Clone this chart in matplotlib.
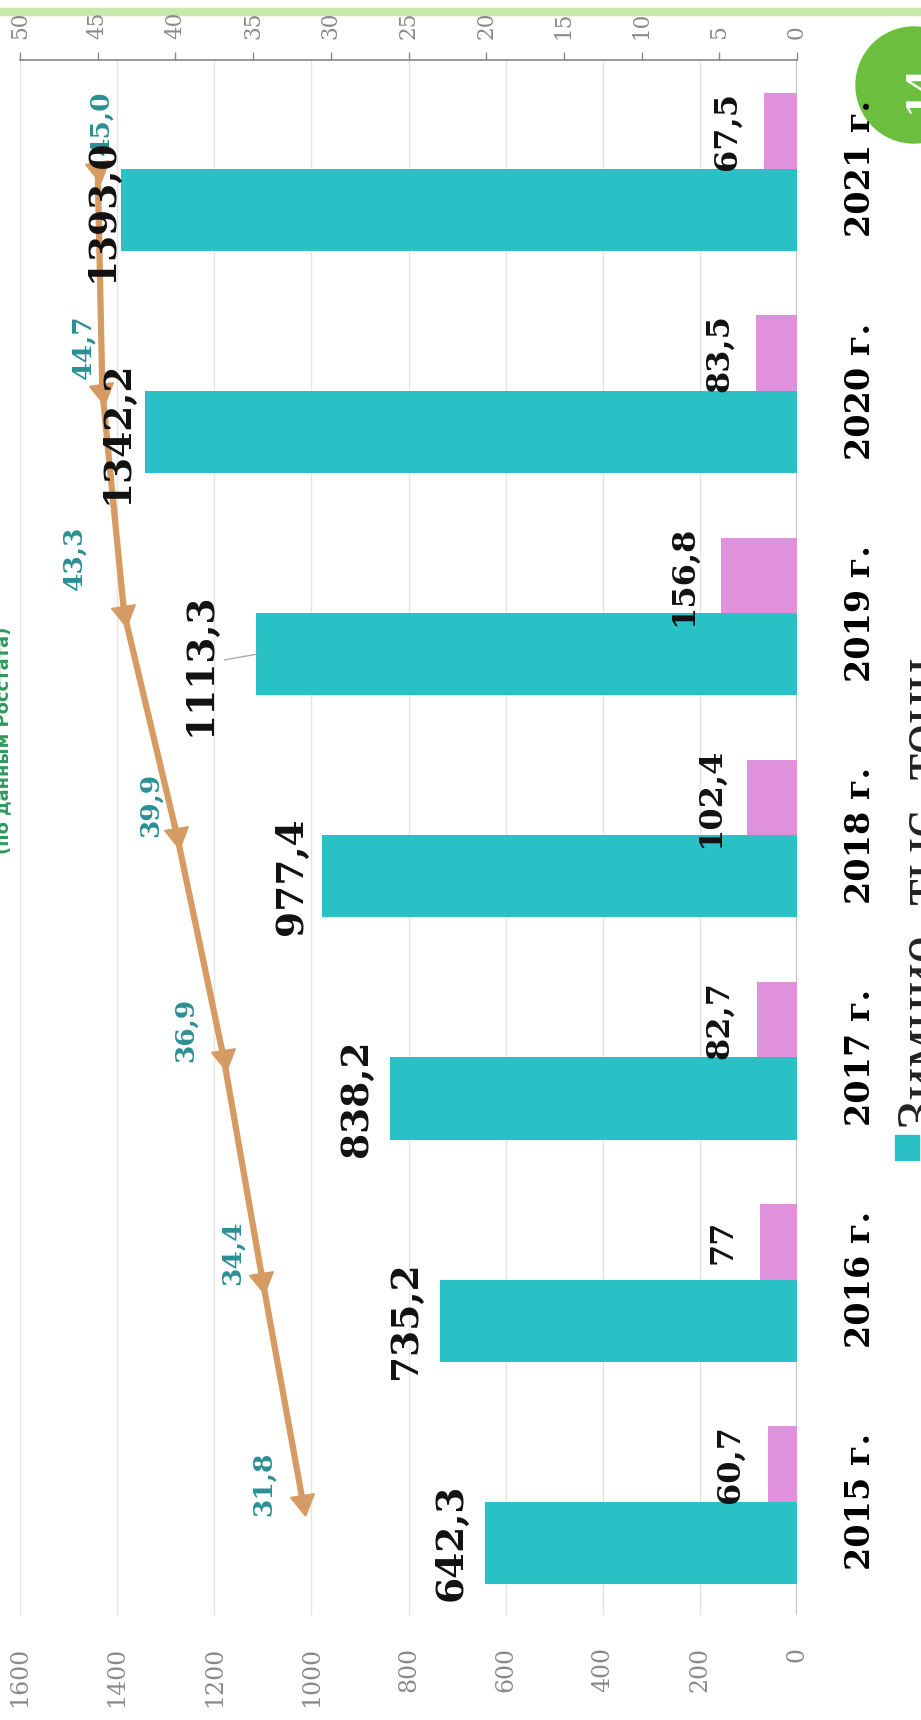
import matplotlib
matplotlib.use('Agg')
import matplotlib.pyplot as plt
from matplotlib.patches import Circle, Rectangle
import numpy as np

# ---------------- data ----------------
years = ['2015 г.', '2016 г.', '2017 г.', '2018 г.', '2019 г.', '2020 г.', '2021 г.']
winter = [642.3, 735.2, 838.2, 977.4, 1113.3, 1342.2, 1393.0]
spring = [60.7, 77, 82.7, 102.4, 156.8, 83.5, 67.5]
share = [31.8, 34.4, 36.9, 39.9, 43.3, 44.7, 45.0]
winter_labels = ['642,3', '735,2', '838,2', '977,4', '1113,3', '1342,2', '1393,0']
spring_labels = ['60,7', '77', '82,7', '102,4', '156,8', '83,5', '67,5']
share_labels = ['31,8', '34,4', '36,9', '39,9', '43,3', '44,7', '45,0']
left_ticks = [0, 200, 400, 600, 800, 1000, 1200, 1400, 1600]
right_ticks = [0, 5, 10, 15, 20, 25, 30, 35, 40, 45, 50]
legend_label = 'Зимние, тыс. тонн'
title_text = '(по данным Росстата)'
page_number = '14'

# ---------------- style ----------------
TEAL = '#29c0c6'
PINK = '#e091dc'
LINE = '#d59b63'
TEAL_TXT = '#2a8f94'
GRAY = '#8a8a8a'
SERIF = 'DejaVu Serif'

W, H = 921, 1720
fig = plt.figure(figsize=(W / 100, H / 100), dpi=100)
fig.patch.set_facecolor('white')

def fx(px):
    return px / W

def fy(py):
    return 1 - py / H

# page decorations drawn underneath the chart
ov = fig.add_axes([0, 0, 1, 1])
ov.set_zorder(-1)
ov.set_xlim(0, W)
ov.set_ylim(H, 0)
ov.axis('off')
ov.patch.set_alpha(0)
ov.add_patch(Rectangle((0, 8), W, 7, color='#c8e9ae', zorder=0))
ov.add_patch(Circle((914, 85), 58, color='#6cbf3e'))
ov.text(919, 88, page_number, rotation=90, color='white', fontsize=26,
        fontweight='bold', ha='center', va='center', family=SERIF)
ov.add_patch(Rectangle((895, 1135), 24, 25, color=TEAL))
ov.text(896, 1130, legend_label, rotation=90, ha='left', va='bottom',
        fontsize=44, family='Liberation Serif', color='#222222')
ov.text(12, 740, title_text, rotation=90, ha='right', va='center',
        color='#2e9a5c', fontsize=13, fontweight='bold', family='DejaVu Sans')

ax = fig.add_axes([fx(20), fy(1615), fx(797) - fx(20), fy(60) - fy(1615)])
ax.patch.set_alpha(0)
ypos = np.arange(len(years))
TW, PW = 0.37, 0.34
ax.barh(ypos - TW / 2, winter, height=TW, color=TEAL, zorder=2)
ax.barh(ypos + PW / 2, spring, height=PW, color=PINK, zorder=2)
ax.set_xlim(1600, 0)
ax.set_ylim(-0.51, 6.49)
ax.set_xticks(left_ticks)
ax.set_xticklabels([str(t) for t in left_ticks], family=SERIF)
ax.tick_params(axis='x', bottom=True, top=False, length=0, pad=23,
               labelsize=17, labelcolor=GRAY, labelrotation=90)
ax.grid(axis='x', color='#e4e4e4', lw=1)
ax.set_axisbelow(True)
for s in ax.spines.values():
    s.set_visible(False)
ax.axvline(0, color='#b5b5b5', lw=1.2, zorder=1)

ax.set_yticks(ypos)
ax.set_yticklabels(years, rotation=90, va='center', fontsize=24,
                   fontweight='bold', family=SERIF)
ax.yaxis.tick_right()
ax.tick_params(axis='y', length=0, pad=34)

ax2 = ax.twiny()
ax2.set_xlim(50, 0)
ax2.set_xticks(right_ticks)
ax2.set_xticklabels([str(t) for t in right_ticks], family=SERIF)
ax2.tick_params(axis='x', top=True, direction='out', length=5.8, width=1,
                color='#888888', pad=9, labelsize=15.5, labelcolor=GRAY,
                labelrotation=90)
for k, s in ax2.spines.items():
    s.set_visible(k == 'top')
ax2.spines['top'].set_color('#888888')
ax2.spines['top'].set_linewidth(1.2)

ax2.plot(share, ypos, color=LINE, lw=4.5, marker=(3, 0, 189), ms=20,
         zorder=5, solid_capstyle='butt')

# line labels
share_off = [(-40, 18), (-30, 27), (-38, 27), (-27, 30), (-50, 55), (-19, 44), (3, 46)]
for v, y, lab, off in zip(share, ypos, share_labels, share_off):
    ax2.annotate(lab, (v, y), xytext=off, textcoords='offset pixels',
                 rotation=90, ha='center', va='center', color=TEAL_TXT,
                 fontsize=19, fontweight='bold', family=SERIF, zorder=6)

# winter bar labels
winter_off = [(-34, 0), (-34, 0), (-33, 0), (-31, 0), (-56, -10), (-28, 0), (-19, 0)]
for i, (v, y, lab) in enumerate(zip(winter, ypos, winter_labels)):
    kw = dict(xycoords=ax.transData, xytext=winter_off[i],
              textcoords='offset pixels', rotation=90, ha='center',
              va='center', fontsize=27, fontweight='bold', family=SERIF,
              color='#111111', zorder=7)
    if i == 4:
        kw['arrowprops'] = dict(arrowstyle='-', color='#aaaaaa', lw=1,
                                shrinkA=2, shrinkB=0)
    ax2.annotate(lab, (v, y - TW / 2), **kw)

# spring bar labels
for v, y, lab in zip(spring, ypos, spring_labels):
    ax2.annotate(lab, (v, y + PW / 2), xycoords=ax.transData,
                 xytext=(-37, 0), textcoords='offset pixels',
                 rotation=90, ha='center', va='center', fontsize=23,
                 fontweight='bold', family=SERIF, color='#111111', zorder=7)

fig.savefig('out.png', dpi=100)
